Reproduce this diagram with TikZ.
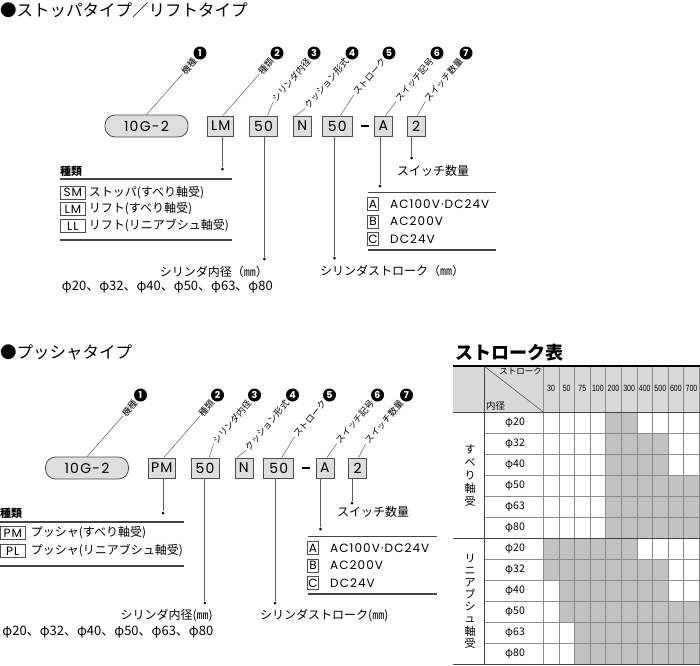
\documentclass[tikz,border=0pt]{standalone}
\usepackage{fontspec}
\setmainfont{Noto Sans CJK JP}
\newfontfamily\latinfont[LetterSpace=9]{Poppins}
\newfontfamily\narrowfont[FakeStretch=0.78]{Liberation Sans}
\usetikzlibrary{positioning}
\usetikzlibrary{calc}

\definecolor{boxfill}{HTML}{DEDEDE}
\definecolor{boxline}{HTML}{4D4D4D}
\definecolor{leadgray}{HTML}{5A5A5A}
\definecolor{rulegray}{HTML}{444444}
\definecolor{headfill}{HTML}{D9D9D9}
\definecolor{cellfill}{HTML}{C2C2C2}
\definecolor{gridgray}{HTML}{8A8A8A}

\tikzset{
  title/.style={anchor=west, inner sep=0, font=\fontsize{16.5}{18}\selectfont},
  code/.style={draw=boxline, fill=boxfill, line width=0.8pt, minimum height=20pt, inner sep=0, font=\latinfont\fontsize{14}{14}\selectfont},
  pill/.style={code, rounded corners=10pt, minimum width=83pt, minimum height=22pt},
  tag/.style={inner sep=1pt, rotate=50, anchor=east, font=\fontsize{9}{9}\selectfont},
  num/.style={circle, fill=black, text=white, inner sep=0, minimum size=13pt, font=\latinfont\bfseries\fontsize{9.5}{9.5}\selectfont},
  lead/.style={draw=leadgray, line width=0.7pt},
  dot/.style={circle, fill=black, inner sep=0, minimum size=3pt},
  rule/.style={draw=rulegray, line width=1.3pt},
  key/.style={draw=boxline, line width=0.6pt, inner sep=0, minimum height=13pt, font=\latinfont\fontsize{12}{12}\selectfont},
  txt/.style={anchor=west, inner sep=0, font=\fontsize{12}{12}\selectfont},
  cell/.style={inner sep=0, font=\fontsize{10.5}{11}\selectfont},
}

\begin{document}
\begin{tikzpicture}[x=1pt, y=1pt]
  \useasboundingbox (0,0) rectangle (700,-665);

  % stopper / lift
  \node[title] (title1) at (0,-10) {●ストッパタイプ／リフトタイプ};

  \node[pill] (pill) at (146.5,-126) {10G-2};
  \node[code, minimum width=26pt, right=19pt of pill] (type) {LM};
  \node[code, minimum width=28pt, right=15pt of type] (bore) {50};
  \node[code, minimum width=18pt, right=15pt of bore] (cush) {N};
  \node[code, minimum width=30pt, right=10pt of cush] (stroke) {50};
  \node[inner sep=0, right=8pt of stroke] (dash) {\rule{8pt}{1.3pt}};
  \node[code, minimum width=18pt, right=5pt of dash] (sw) {A};
  \node[code, minimum width=18pt, right=14pt of sw] (qty) {2};

  \foreach \src/\dx/\cx/\txt/\n in {pill/0pt/200/機種/1, type/2pt/277/種類/2,
      bore/4pt/314/シリンダ内径/3, cush/-7pt/352/クッション形式/4,
      stroke/3pt/389/ストローク/5, sw/2pt/437/スイッチ記号/6, qty/1pt/466/スイッチ数量/7}{
    \node[num] (c\n) at (\cx,-53) {\n};
    \node[tag] (t\n) at ($(c\n)+(230:7pt)$) {\txt};
    \draw[lead, line width=0.5pt] ([xshift=\dx]\src.north) -- (t\n.west);
  }

  \node[dot] (typedot) at (222.5,-169) {};
  \node[dot] (boredot) at (264.3,-259) {};
  \node[dot] (strokedot) at (334.5,-258) {};
  \node[dot] (swdot) at (380,-186) {};
  \node[dot] (qtydot) at (411.5,-158) {};
  \draw[lead] (type.south -| typedot) -- (typedot);
  \draw[lead] (bore.south -| boredot) -- (boredot);
  \draw[lead] (stroke.south -| strokedot) -- (strokedot);
  \draw[lead] (sw.south -| swdot) -- (swdot);
  \draw[lead] (qty.south -| qtydot) -- (qtydot);

  \node[txt, font=\bfseries\fontsize{11}{11}\selectfont] (kind) at (60,-171) {種類};
  \draw[rule] (60,-179) -- (232,-179);
  \node[key, minimum width=25pt, anchor=west] (sm) at (60,-192.5) {SM};
  \node[txt, right=3pt of sm] (smtxt) {ストッパ(すべり軸受)};
  \node[key, minimum width=25pt, anchor=west] (lm) at (60,-209) {LM};
  \node[txt, right=3pt of lm] (lmtxt) {リフト(すべり軸受)};
  \node[key, minimum width=25pt, anchor=west] (ll) at (60,-226) {LL};
  \node[txt, right=3pt of ll] (lltxt) {リフト(リニアブシュ軸受)};
  \draw[rule] (60,-240) -- (232,-240);

  \node[txt, anchor=east] (borelbl) at (268,-272) {シリンダ内径（㎜）};
  \node[txt, anchor=east, font=\fontsize{13}{13}\selectfont] (borelist) at (273,-287) {φ20、φ32、φ40、φ50、φ63、φ80};
  \node[txt] (strokelbl) at (320,-271) {シリンダストローク（㎜）};

  \node[txt] (qtylbl) at (397,-171) {スイッチ数量};
  \draw[rule] (368,-192.7) -- (496,-192.7);
  \node[key, minimum width=11pt] (ka) at (373,-204) {A};
  \node[txt] (katxt) at (390,-204) {\latinfont AC100V·DC24V};
  \node[key, minimum width=11pt] (kb) at (373,-221.5) {B};
  \node[txt] (kbtxt) at (390,-221.5) {\latinfont AC200V};
  \node[key, minimum width=11pt] (kc) at (373,-239) {C};
  \node[txt] (kctxt) at (390,-239) {\latinfont DC24V};
  \draw[rule] (368,-250) -- (496,-250);

  % pusher
  \node[title] (title2) at (0,-352) {●プッシャタイプ};

  \begin{scope}[shift={(-59.5pt,-342pt)}]
    \node[pill] (pill) at (146.5,-126) {10G-2};
    \node[code, minimum width=27pt, right=19pt of pill] (type) {PM};
    \node[code, minimum width=28pt, right=15pt of type] (bore) {50};
    \node[code, minimum width=18pt, right=15pt of bore] (cush) {N};
    \node[code, minimum width=30pt, right=10pt of cush] (stroke) {50};
    \node[inner sep=0, right=8pt of stroke] (dash) {\rule{8pt}{1.3pt}};
    \node[code, minimum width=18pt, right=5pt of dash] (sw) {A};
    \node[code, minimum width=18pt, right=14pt of sw] (qty) {2};

    \foreach \src/\dx/\cx/\txt/\n in {pill/0pt/200/機種/1, type/2pt/277/種類/2,
        bore/4pt/314/シリンダ内径/3, cush/-7pt/352/クッション形式/4,
        stroke/3pt/389/ストローク/5, sw/2pt/437/スイッチ記号/6, qty/1pt/466/スイッチ数量/7}{
      \node[num] (c\n) at (\cx,-53) {\n};
      \node[tag] (t\n) at ($(c\n)+(230:7pt)$) {\txt};
      \draw[lead, line width=0.5pt] ([xshift=\dx]\src.north) -- (t\n.west);
    }

    \node[dot] (typedot) at (222.5,-171) {};
    \node[dot] (boredot) at (264.3,-261) {};
    \node[dot] (strokedot) at (334.5,-261) {};
    \node[dot] (swdot) at (380,-187) {};
    \node[dot] (qtydot) at (411.5,-161) {};
    \draw[lead] (type.south -| typedot) -- (typedot);
    \draw[lead] (bore.south -| boredot) -- (boredot);
    \draw[lead] (stroke.south -| strokedot) -- (strokedot);
    \draw[lead] (sw.south -| swdot) -- (swdot);
    \draw[lead] (qty.south -| qtydot) -- (qtydot);

    \node[txt, font=\bfseries\fontsize{11}{11}\selectfont] (kind) at (59.5,-171) {種類};
    \draw[rule] (59.5,-180) -- (243.5,-180);
    \node[key, minimum width=25pt, anchor=west] (pm) at (59.5,-191) {PM};
    \node[txt, right=5pt of pm] (pmtxt) {プッシャ(すべり軸受)};
    \node[key, minimum width=25pt, anchor=west] (pl) at (59.5,-209) {PL};
    \node[txt, right=5pt of pl] (pltxt) {プッシャ(リニアブシュ軸受)};
    \draw[rule] (59.5,-224) -- (243.5,-224);

    \node[txt, anchor=east] (borelbl) at (272.5,-274) {シリンダ内径(㎜)};
    \node[txt, anchor=east, font=\fontsize{13}{13}\selectfont] (borelist) at (273,-290) {φ20、φ32、φ40、φ50、φ63、φ80};
    \node[txt] (strokelbl) at (319.5,-274) {シリンダストローク(㎜)};

    \node[txt] (qtylbl) at (396.5,-170) {スイッチ数量};
    \draw[rule] (367.5,-194.7) -- (496,-194.7);
    \node[key, minimum width=11pt] (ka) at (372.5,-206) {A};
    \node[txt] (katxt) at (389.5,-206) {\latinfont AC100V·DC24V};
    \node[key, minimum width=11pt] (kb) at (372.5,-223.5) {B};
    \node[txt] (kbtxt) at (389.5,-223.5) {\latinfont AC200V};
    \node[key, minimum width=11pt] (kc) at (372.5,-241) {C};
    \node[txt] (kctxt) at (389.5,-241) {\latinfont DC24V};
    \draw[rule] (367.5,-252) -- (496,-252);
  \end{scope}

  % stroke table
  \node[anchor=west, inner sep=0, font=\bfseries\fontsize{18}{18}\selectfont] (tabtitle) at (455,-353) {ストローク表};
  \fill[headfill] (453,-366) rectangle (700,-412);
  \foreach \r/\a/\b in {0/4/5, 1/4/7, 2/4/7, 3/4/9, 4/4/9, 5/4/9,
      6/0/5, 7/0/7, 8/1/7, 9/1/9, 10/2/9, 11/2/9}
    \fill[cellfill] ({543.3+15.6*\a},{-412-21*\r}) rectangle ({543.3+15.6*(\b+1)},{-433-21*\r});
  \foreach \k in {0,...,10}
    \draw[gridgray, line width=0.6pt] ({543.3+15.6*\k},-366) -- ({543.3+15.6*\k},-664);
  \foreach \r in {1,...,11}
    \draw[gridgray, line width=0.6pt] (484,{-412-21*\r}) -- (700,{-412-21*\r});
  \draw[rulegray, line width=0.9pt] (453,-538) -- (700,-538);
  \draw[rulegray, line width=0.9pt] (484,-366) -- (484,-664);
  \draw[rulegray, line width=0.9pt] (453,-412) -- (700,-412);
  \draw[rulegray, line width=0.8pt] (453,-664) -- (700,-664);
  \draw[black, line width=1.6pt] (453,-366) -- (700,-366);
  \draw[rulegray, line width=0.5pt] (484,-366) -- (543.3,-412);

  \node[anchor=north east, inner sep=1pt, font=\fontsize{8.5}{9}\selectfont] (hstroke) at (543,-366) {ストローク};
  \node[anchor=south west, inner sep=1pt, font=\fontsize{9.5}{10}\selectfont] (hbore) at (485,-411) {内径};
  \foreach \s [count=\k from 0] in {30,50,75,100,200,300,400,500,600,700}
    \node[inner sep=0, font=\narrowfont\fontsize{9}{9}\selectfont] (h\k) at ({551.1+15.6*\k},-388) {\s};
  \foreach \d [count=\r from 0] in {20,32,40,50,63,80,20,32,40,50,63,80}
    \node[cell] (b\r) at (515,{-422.5-21*\r}) {φ\d};
  \node[align=center, inner sep=0, font=\fontsize{11}{13}\selectfont] (slide) at (470,-476) {す\\べ\\り\\軸\\受};
  \node[align=center, inner sep=0, font=\fontsize{11}{12.1}\selectfont] (linear) at (470,-601) {リ\\ニ\\ア\\ブ\\シ\\ュ\\軸\\受};
\end{tikzpicture}
\end{document}
